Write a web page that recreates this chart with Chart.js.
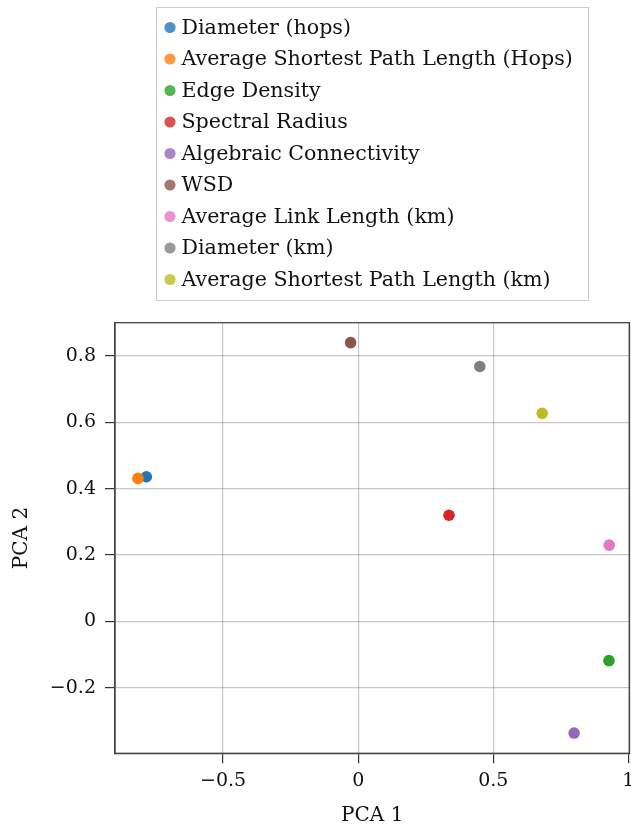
<!DOCTYPE html>
<html>
<head>
<meta charset="utf-8">
<script src="https://cdn.jsdelivr.net/npm/chart.js@4.4.0/dist/chart.umd.min.js"></script>
<style>
  html, body { margin: 0; padding: 0; background: #fff; }
  #wrap { width: 631px; height: 829px; position: relative; }
</style>
</head>
<body>
<div id="wrap"><canvas id="pcaChart"></canvas></div>
<script>
// metrics and their loadings on the first two principal components
var metricNames = [
    "Diameter (hops)",
    "Average Shortest Path Length (Hops)",
    "Edge Density",
    "Spectral Radius",
    "Algebraic Connectivity",
    "WSD",
    "Average Link Length (km)",
    "Diameter (km)",
    "Average Shortest Path Length (km)"
];
var pca1 = [-0.784, -0.815, 0.928, 0.336, 0.799, -0.028, 0.929, 0.450, 0.681];
var pca2 = [0.436, 0.431, -0.118, 0.320, -0.336, 0.840, 0.230, 0.768, 0.627];
var colors = ["#1f77b4", "#ff7f0e", "#2ca02c", "#d62728", "#9467bd", "#8c564b", "#e377c2", "#7f7f7f", "#bcbd22"];

var xTicks = [-0.5, 0, 0.5, 1];
var xTickLabels = ["\u22120.5", "0", "0.5", "1"];
var yTicks = [-0.2, 0, 0.2, 0.4, 0.6, 0.8];
var yTickLabels = ["\u22120.2", "0", "0.2", "0.4", "0.6", "0.8"];

var serif = "'DejaVu Serif', serif";

var datasets = [];
for (var i = 0; i < metricNames.length; i++) {
    datasets.push({
        label: metricNames[i],
        data: [{ x: pca1[i], y: pca2[i] }],
        backgroundColor: colors[i],
        borderWidth: 0,
        pointRadius: 5.8,
        pointHoverRadius: 5.8,
        order: metricNames.length - i // later entries sit on top
    });
}

// full frame round the plot area (chart.js only draws the axis side)
var framePlugin = {
    id: 'frame',
    afterDatasetsDraw: function (chart) {
        var a = chart.chartArea, ctx = chart.ctx;
        ctx.save();
        ctx.strokeStyle = '#444';
        ctx.lineWidth = 1.3;
        ctx.strokeRect(a.left, a.top, a.right - a.left, a.bottom - a.top);
        ctx.restore();
    }
};

// boxed legend, one entry per row, above the plot
var boxLegend = {
    id: 'boxLegend',
    afterDraw: function (chart) {
        var ctx = chart.ctx;
        ctx.save();
        ctx.strokeStyle = '#cccccc';
        ctx.lineWidth = 1;
        ctx.strokeRect(156.5, 7.5, 432, 293);
        ctx.font = "20.6px " + serif;
        ctx.textBaseline = 'middle';
        ctx.textAlign = 'left';
        chart.data.datasets.forEach(function (ds, k) {
            var y = 27.5 + k * 31.5;
            ctx.globalAlpha = 0.8;
            ctx.fillStyle = ds.backgroundColor;
            ctx.beginPath();
            ctx.arc(170, y, 5.6, 0, Math.PI * 2);
            ctx.fill();
            ctx.globalAlpha = 1;
            ctx.fillStyle = '#111';
            ctx.fillText(ds.label, 181.5, y + 1);
        });
        ctx.restore();
    }
};

new Chart(document.getElementById('pcaChart'), {
    type: 'scatter',
    data: { datasets: datasets },
    plugins: [framePlugin, boxLegend],
    options: {
        responsive: true,
        maintainAspectRatio: false,
        animation: false,
        layout: { autoPadding: false, padding: { top: 322.7, left: 0, right: 1.5, bottom: 0 } },
        plugins: {
            legend: { display: false },
            tooltip: { enabled: false }
        },
        scales: {
            x: {
                type: 'linear',
                min: -0.9,
                max: 1.004,
                afterBuildTicks: function (scale) {
                    scale.ticks = xTicks.map(function (v) { return { value: v }; });
                },
                afterFit: function (scale) {
                    scale.height = 829 - 753.3;
                    scale.paddingLeft = 0;
                    scale.paddingRight = 0;
                },
                ticks: {
                    padding: 6,
                    color: '#111',
                    font: { family: serif, size: 19 },
                    maxRotation: 0,
                    callback: function (v) {
                        var k = xTicks.indexOf(v);
                        return k >= 0 ? xTickLabels[k] : '';
                    }
                },
                grid: { color: 'rgba(0,0,0,0.22)', lineWidth: 1.2, tickColor: '#333', tickLength: 10 },
                border: { color: '#444', width: 1.3 },
                title: {
                    display: true,
                    text: 'PCA 1',
                    color: '#111',
                    font: { family: serif, size: 20 },
                    padding: { top: 0, bottom: 1 }
                }
            },
            y: {
                type: 'linear',
                min: -0.397,
                max: 0.9,
                afterBuildTicks: function (scale) {
                    scale.ticks = yTicks.map(function (v) { return { value: v }; });
                },
                afterFit: function (scale) {
                    scale.width = 115;
                    scale.paddingTop = 0;
                    scale.paddingBottom = 0;
                },
                ticks: {
                    padding: 9,
                    color: '#111',
                    font: { family: serif, size: 19 },
                    callback: function (v) {
                        var k = yTicks.indexOf(v);
                        return k >= 0 ? yTickLabels[k] : '';
                    }
                },
                grid: { color: 'rgba(0,0,0,0.22)', lineWidth: 1.2, tickColor: '#333', tickLength: 10 },
                border: { color: '#444', width: 1.3 },
                title: {
                    display: true,
                    text: 'PCA 2',
                    color: '#111',
                    font: { family: serif, size: 20 },
                    padding: { top: 10, bottom: 0 }
                }
            }
        }
    }
});
</script>
</body>
</html>
